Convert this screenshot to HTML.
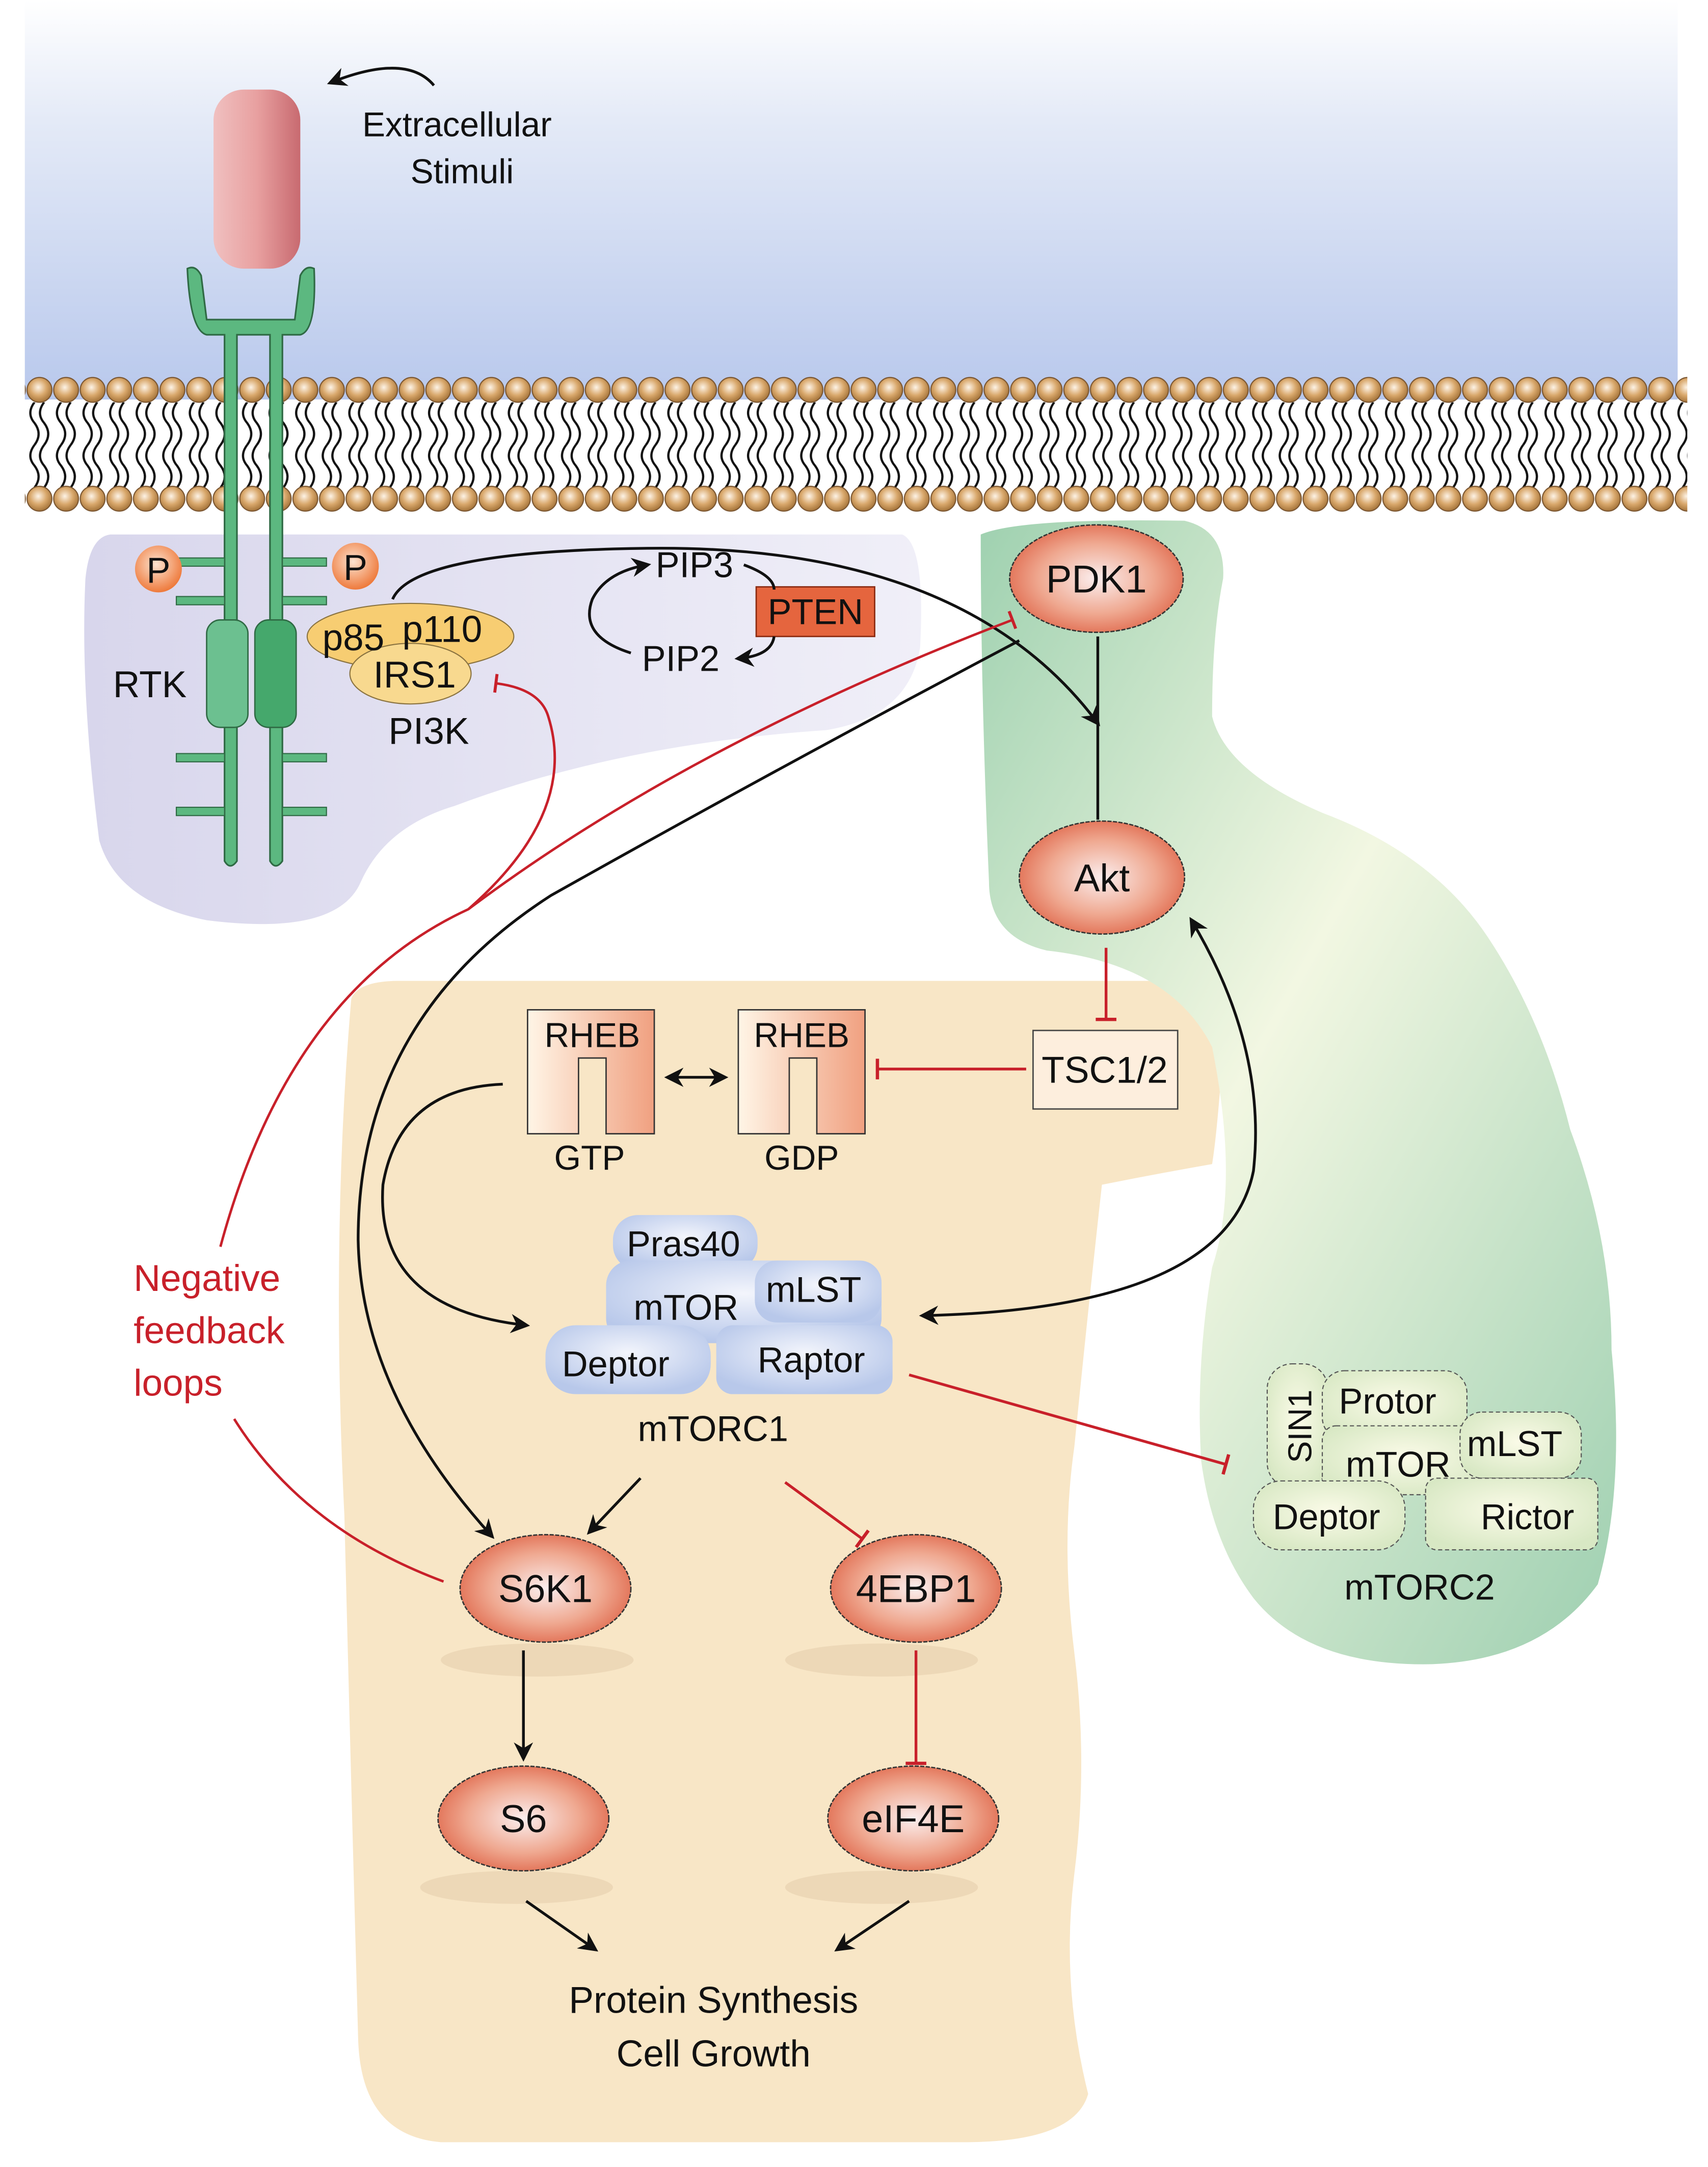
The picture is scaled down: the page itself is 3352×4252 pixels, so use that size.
<!DOCTYPE html>
<html><head><meta charset="utf-8"><style>
html,body{margin:0;padding:0;background:#fff}
svg{display:block}
text{font-family:"Liberation Sans",sans-serif;fill:#111}
</style></head><body>
<svg width="3352" height="4252" viewBox="0 0 1240 1573" xmlns="http://www.w3.org/2000/svg">
<defs>
<linearGradient id="sky" x1="0" y1="0" x2="0" y2="1"><stop offset="0" stop-color="#ffffff"/><stop offset="0.3" stop-color="#e4eaf7"/><stop offset="1" stop-color="#b8c8ec"/></linearGradient>
<radialGradient id="bead" cx="0.45" cy="0.4" r="0.6"><stop offset="0" stop-color="#fdf3e6"/><stop offset="0.55" stop-color="#d9a86c"/><stop offset="1" stop-color="#a5743a"/></radialGradient>
<pattern id="beadsT" x="19" y="273" width="19.3" height="20" patternUnits="userSpaceOnUse"><circle cx="9.65" cy="10" r="9" fill="url(#bead)" stroke="#7a5530" stroke-width="0.8"/></pattern>
<pattern id="beadsB" x="19" y="352" width="19.3" height="20" patternUnits="userSpaceOnUse"><circle cx="9.65" cy="10" r="9" fill="url(#bead)" stroke="#7a5530" stroke-width="0.8"/></pattern>
<pattern id="tails" x="19" y="292" width="19.3" height="62" patternUnits="userSpaceOnUse">
<path d="M6 0 Q0 8 6 15 Q12 23 6 31" fill="none" stroke="#111" stroke-width="1.6"/>
<path d="M13 0 Q7 8 13 15 Q19 23 13 31" fill="none" stroke="#111" stroke-width="1.6"/>
<path d="M6 31 Q0 39 6 46 Q12 54 6 62" fill="none" stroke="#111" stroke-width="1.6"/>
<path d="M13 31 Q7 39 13 46 Q19 54 13 62" fill="none" stroke="#111" stroke-width="1.6"/>
</pattern>
<radialGradient id="node" cx="0.5" cy="0.5" r="0.55"><stop offset="0" stop-color="#fbeeee"/><stop offset="0.6" stop-color="#efa890"/><stop offset="1" stop-color="#e06a4e"/></radialGradient>
<radialGradient id="pball" cx="0.45" cy="0.4" r="0.6"><stop offset="0" stop-color="#fde3d0"/><stop offset="1" stop-color="#ee7a3c"/></radialGradient>
<linearGradient id="purp" x1="0" y1="0" x2="1" y2="0"><stop offset="0" stop-color="#d8d6ec"/><stop offset="1" stop-color="#f0eff8"/></linearGradient>
<linearGradient id="grn" x1="0" y1="0" x2="1" y2="1"><stop offset="0" stop-color="#9fd1b0"/><stop offset="0.45" stop-color="#f2f7e2"/><stop offset="1" stop-color="#9dcfb0"/></linearGradient>
<radialGradient id="blue" cx="0.5" cy="0.4" r="0.6"><stop offset="0" stop-color="#f3f5fc"/><stop offset="1" stop-color="#b8c8ea"/></radialGradient>
<radialGradient id="cplx2" cx="0.5" cy="0.45" r="0.6"><stop offset="0" stop-color="#fbfbe8"/><stop offset="1" stop-color="#d8e8c4"/></radialGradient>
<linearGradient id="rheb" x1="0" y1="0" x2="1" y2="0"><stop offset="0" stop-color="#fff5e6"/><stop offset="1" stop-color="#f0a080"/></linearGradient>
<linearGradient id="rec" x1="0" y1="0" x2="1" y2="0"><stop offset="0" stop-color="#f0c0c0"/><stop offset="0.5" stop-color="#e8a0a0"/><stop offset="1" stop-color="#c86a70"/></linearGradient>
<marker id="ah" viewBox="0 0 10 10" refX="8" refY="5" markerWidth="7" markerHeight="7" orient="auto-start-reverse"><path d="M0 0 L10 5 L0 10 L3 5 Z" fill="#111"/></marker>
<marker id="tb" viewBox="0 0 4 10" refX="2" refY="5" markerWidth="3" markerHeight="8" orient="auto"><path d="M2 0 V10" stroke="#c8202a" stroke-width="1.6"/></marker>
</defs>

<rect x="18" y="0" width="1200" height="290" fill="url(#sky)"/>

<path d="M80 388 L655 388 Q672 395 668 470 Q660 520 600 530 Q450 540 330 585 Q280 600 262 640 Q245 680 150 668 Q85 655 72 610 Q58 500 62 420 Q65 390 80 388 Z" fill="url(#purp)"/>
<path d="M255 725 Q260 712 290 712 L870 712 Q892 716 888 760 Q884 820 880 845 Q840 852 800 860 Q790 950 780 1050 Q770 1120 780 1200 Q790 1280 780 1360 Q770 1440 790 1520 Q780 1555 700 1555 L320 1555 Q262 1550 260 1480 Q255 1300 250 1100 Q240 900 255 725 Z" fill="#f8e6c6"/>
<path d="M712 388 Q740 376 860 378 Q890 385 888 420 Q880 460 880 520 Q890 560 960 590 Q1040 620 1080 680 Q1120 740 1140 820 Q1170 900 1170 980 Q1180 1080 1160 1150 Q1120 1205 1040 1208 Q950 1210 910 1160 Q880 1120 872 1060 Q868 990 880 920 Q900 860 880 760 Q850 700 760 690 Q718 680 718 640 Q712 500 712 388 Z" fill="url(#grn)"/>

<rect x="18" y="292" width="1207" height="62" fill="url(#tails)"/>
<rect x="18" y="273" width="1207" height="20" fill="url(#beadsT)"/>
<rect x="18" y="352" width="1207" height="20" fill="url(#beadsB)"/>

<rect x="155" y="65" width="63" height="130" rx="22" fill="url(#rec)"/>
<path d="M136 195 Q138 240 150 243 L163 243 L163 625 Q167 632 172 625 L172 243 L196 243 L196 625 Q200 632 205 625 L205 243 L218 243 Q230 240 228 195 Q222 192 218 200 L214 232 L150 232 L146 200 Q142 192 136 195 Z" fill="#5cb880" stroke="#2f6a44" stroke-width="1.2"/>
<rect x="150" y="450" width="30" height="78" rx="10" fill="#6cc090" stroke="#2f6a44" stroke-width="1"/>
<rect x="185" y="450" width="30" height="78" rx="10" fill="#45a86c" stroke="#2f6a44" stroke-width="1"/>
<g fill="#5cb880" stroke="#2f6a44" stroke-width="0.8">
<rect x="128" y="405" width="35" height="6"/><rect x="128" y="433" width="35" height="6"/>
<rect x="128" y="547" width="35" height="6"/><rect x="128" y="586" width="35" height="6"/>
<rect x="205" y="405" width="32" height="6"/><rect x="205" y="433" width="32" height="6"/>
<rect x="205" y="547" width="32" height="6"/><rect x="205" y="586" width="32" height="6"/>
</g>
<circle cx="115" cy="413" r="17" fill="url(#pball)"/><text x="115" y="423" font-size="26" text-anchor="middle">P</text>
<circle cx="258" cy="411" r="17" fill="url(#pball)"/><text x="258" y="421" font-size="26" text-anchor="middle">P</text>
<text x="82" y="506" font-size="27">RTK</text>

<ellipse cx="298" cy="462" rx="75" ry="24" fill="#f7cd72" stroke="#8a7340" stroke-width="0.8"/>
<ellipse cx="298" cy="489" rx="44" ry="22" fill="#f8d98f" stroke="#8a7340" stroke-width="0.8"/>
<text x="234" y="472" font-size="27">p85</text><text x="292" y="466" font-size="27">p110</text>
<text x="271" y="499" font-size="27">IRS1</text>
<text x="282" y="540" font-size="27">PI3K</text>

<text x="263" y="99" font-size="25">Extracellular</text>
<text x="298" y="133" font-size="25">Stimuli</text>
<path d="M315 62 Q295 38 240 60" fill="none" stroke="#111" stroke-width="2" marker-end="url(#ah)"/>

<text x="476" y="419" font-size="26">PIP3</text>
<text x="466" y="487" font-size="26">PIP2</text>
<rect x="549" y="426" width="86" height="36" fill="#e5653e" stroke="#8a2a10" stroke-width="1"/>
<text x="592" y="453" font-size="26" text-anchor="middle">PTEN</text>
<path d="M458 474 Q420 462 430 435 Q440 415 470 410" fill="none" stroke="#111" stroke-width="2" marker-end="url(#ah)"/>
<path d="M540 410 Q562 418 562 428 M562 462 Q560 476 536 478" fill="none" stroke="#111" stroke-width="2" marker-end="url(#ah)"/>

<ellipse cx="796" cy="420" rx="63" ry="39" fill="url(#node)" stroke="#333" stroke-width="1" stroke-dasharray="3 1"/>
<text x="796" y="430" font-size="28" text-anchor="middle">PDK1</text>
<ellipse cx="800" cy="637" rx="60" ry="41" fill="url(#node)" stroke="#333" stroke-width="1" stroke-dasharray="3 1"/>
<text x="800" y="647" font-size="28" text-anchor="middle">Akt</text>
<line x1="797" y1="462" x2="797" y2="595" stroke="#111" stroke-width="2"/>
<path d="M285 435 Q300 400 470 398 Q700 395 797 525" fill="none" stroke="#111" stroke-width="2" marker-end="url(#ah)"/>

<rect x="750" y="748" width="105" height="57" fill="#fdeedd" stroke="#444" stroke-width="1"/>
<text x="802" y="786" font-size="27" text-anchor="middle">TSC1/2</text>
<line x1="803" y1="688" x2="803" y2="740" stroke="#c8202a" stroke-width="2" marker-end="url(#tb)"/>
<line x1="745" y1="776" x2="637" y2="776" stroke="#c8202a" stroke-width="2" marker-end="url(#tb)"/>

<path d="M383 733 H475 V823 H440 V768 H420 V823 H383 Z" fill="url(#rheb)" stroke="#333" stroke-width="1"/>
<path d="M536 733 H628 V823 H593 V768 H573 V823 H536 Z" fill="url(#rheb)" stroke="#333" stroke-width="1"/>
<text x="430" y="760" font-size="25" text-anchor="middle">RHEB</text>
<text x="582" y="760" font-size="25" text-anchor="middle">RHEB</text>
<text x="428" y="849" font-size="25" text-anchor="middle">GTP</text>
<text x="582" y="849" font-size="25" text-anchor="middle">GDP</text>
<line x1="485" y1="782" x2="526" y2="782" stroke="#111" stroke-width="2" marker-start="url(#ah)" marker-end="url(#ah)"/>

<g fill="url(#blue)">
<rect x="445" y="882" width="105" height="40" rx="18"/>
<rect x="440" y="915" width="200" height="60" rx="18"/>
<rect x="548" y="915" width="92" height="45" rx="16"/>
<rect x="396" y="962" width="120" height="50" rx="22"/>
<rect x="520" y="962" width="128" height="50" rx="12"/>
</g>
<text x="455" y="912" font-size="26">Pras40</text>
<text x="460" y="958" font-size="26">mTOR</text>
<text x="556" y="945" font-size="26">mLST</text>
<text x="408" y="999" font-size="26">Deptor</text>
<text x="550" y="996" font-size="26">Raptor</text>
<text x="463" y="1046" font-size="26">mTORC1</text>

<g fill="url(#cplx2)" stroke="#555" stroke-width="0.8" stroke-dasharray="3 2">
<rect x="920" y="990" width="44" height="90" rx="18"/>
<rect x="960" y="995" width="105" height="50" rx="16"/>
<rect x="960" y="1035" width="120" height="50" rx="10"/>
<rect x="1060" y="1025" width="88" height="48" rx="16"/>
<rect x="910" y="1075" width="110" height="50" rx="20"/>
<rect x="1035" y="1073" width="125" height="52" rx="8"/>
</g>
<text transform="translate(952 1062) rotate(-90)" font-size="24">SIN1</text>
<text x="972" y="1026" font-size="26">Protor</text>
<text x="977" y="1072" font-size="26">mTOR</text>
<text x="1065" y="1057" font-size="26">mLST</text>
<text x="924" y="1110" font-size="26">Deptor</text>
<text x="1075" y="1110" font-size="26">Rictor</text>
<text x="976" y="1161" font-size="26">mTORC2</text>
<line x1="660" y1="998" x2="890" y2="1063" stroke="#c8202a" stroke-width="2" marker-end="url(#tb)"/>

<path d="M865 668 Q920 760 910 850 Q890 950 670 955" fill="none" stroke="#111" stroke-width="2" marker-start="url(#ah)" marker-end="url(#ah)"/>
<path d="M365 787 Q290 790 278 860 Q272 950 382 962" fill="none" stroke="#111" stroke-width="2" marker-end="url(#ah)"/>
<path d="M740 465 Q560 560 400 650 Q260 740 260 900 Q262 1010 357 1115" fill="none" stroke="#111" stroke-width="2" marker-end="url(#ah)"/>

<ellipse cx="390" cy="1205" rx="70" ry="12" fill="#e8d2b0" opacity="0.7"/>
<ellipse cx="640" cy="1205" rx="70" ry="12" fill="#e8d2b0" opacity="0.7"/>
<ellipse cx="375" cy="1370" rx="70" ry="12" fill="#e8d2b0" opacity="0.7"/>
<ellipse cx="640" cy="1370" rx="70" ry="12" fill="#e8d2b0" opacity="0.7"/>
<ellipse cx="396" cy="1153" rx="62" ry="39" fill="url(#node)" stroke="#333" stroke-width="1" stroke-dasharray="3 1"/>
<text x="396" y="1163" font-size="28" text-anchor="middle">S6K1</text>
<ellipse cx="665" cy="1153" rx="62" ry="39" fill="url(#node)" stroke="#333" stroke-width="1" stroke-dasharray="3 1"/>
<text x="665" y="1163" font-size="28" text-anchor="middle">4EBP1</text>
<ellipse cx="380" cy="1320" rx="62" ry="38" fill="url(#node)" stroke="#333" stroke-width="1" stroke-dasharray="3 1"/>
<text x="380" y="1330" font-size="28" text-anchor="middle">S6</text>
<ellipse cx="663" cy="1320" rx="62" ry="38" fill="url(#node)" stroke="#333" stroke-width="1" stroke-dasharray="3 1"/>
<text x="663" y="1330" font-size="28" text-anchor="middle">eIF4E</text>

<line x1="465" y1="1073" x2="428" y2="1112" stroke="#111" stroke-width="2" marker-end="url(#ah)"/>
<line x1="570" y1="1076" x2="626" y2="1117" stroke="#c8202a" stroke-width="2" marker-end="url(#tb)"/>
<line x1="380" y1="1198" x2="380" y2="1276" stroke="#111" stroke-width="2" marker-end="url(#ah)"/>
<line x1="665" y1="1198" x2="665" y2="1280" stroke="#c8202a" stroke-width="2" marker-end="url(#tb)"/>
<line x1="382" y1="1380" x2="432" y2="1415" stroke="#111" stroke-width="2" marker-end="url(#ah)"/>
<line x1="660" y1="1380" x2="608" y2="1415" stroke="#111" stroke-width="2" marker-end="url(#ah)"/>

<text x="518" y="1461" font-size="27" text-anchor="middle">Protein Synthesis</text>
<text x="518" y="1500" font-size="27" text-anchor="middle">Cell Growth</text>

<path d="M322 1148 Q220 1110 170 1030" fill="none" stroke="#c8202a" stroke-width="1.8"/>
<path d="M160 905 Q210 720 340 660 Q500 540 735 450" fill="none" stroke="#c8202a" stroke-width="1.8" marker-end="url(#tb)"/>
<path d="M340 660 Q420 590 398 520 Q392 500 360 496" fill="none" stroke="#c8202a" stroke-width="1.8" marker-end="url(#tb)"/>
<text x="97" y="937" font-size="27" style="fill:#c8202a">Negative</text>
<text x="97" y="975" font-size="27" style="fill:#c8202a">feedback</text>
<text x="97" y="1013" font-size="27" style="fill:#c8202a">loops</text>
</svg>
</body></html>
